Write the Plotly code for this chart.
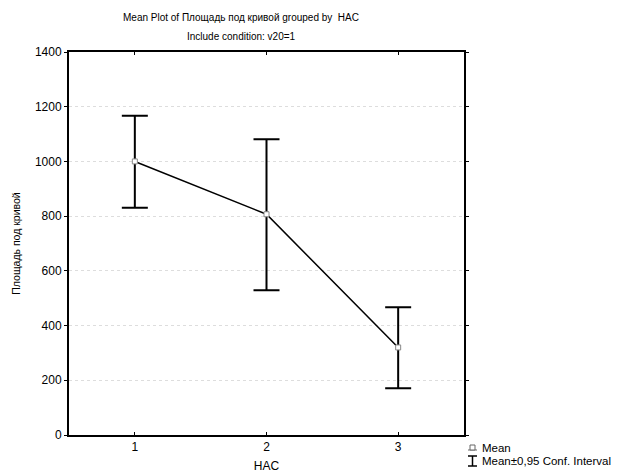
import plotly.graph_objects as go

groups = [1, 2, 3]
means = [1000, 807, 320]
ci_upper = [1167, 1081, 467]
ci_lower = [831, 529, 171]

err_plus = [u - m for u, m in zip(ci_upper, means)]
err_minus = [m - l for m, l in zip(means, ci_lower)]

font = "Liberation Sans, Arial, sans-serif"

# plot area in pixels
L, R, T, B = 69, 464, 52, 435
W, H = 627, 476


def px(x):
    return (x - L) / (R - L)


def py(y):
    return (B - y) / (B - T)


fig = go.Figure()
fig.add_trace(go.Scatter(
    x=groups, y=means, mode="lines+markers",
    line=dict(color="black", width=1.5),
    marker=dict(symbol="square", size=5, color="white", line=dict(color="#888", width=1)),
    error_y=dict(type="data", symmetric=False, array=err_plus, arrayminus=err_minus,
                 color="black", thickness=2, width=13),
    showlegend=False,
))

fig.update_layout(
    width=W, height=H,
    margin=dict(l=L, r=W - R, t=T, b=H - B, autoexpand=False),
    paper_bgcolor="white", plot_bgcolor="white",
    font=dict(family=font, size=12, color="black"),
    xaxis=dict(range=[0.5, 3.5], tickvals=groups, ticktext=[str(g) for g in groups],
               showline=True, linecolor="black", linewidth=2, mirror="ticks",
               ticks="inside", ticklen=3, tickcolor="black", showgrid=False, zeroline=False,
               tickfont=dict(size=12), automargin=False,
               title=dict(text="HAC", standoff=8, font=dict(size=12))),
    yaxis=dict(range=[0, 1400], dtick=200,
               showline=True, linecolor="black", linewidth=2, mirror="ticks",
               ticks="outside", ticklen=3, tickcolor="black",
               showgrid=True, gridcolor="#dddddd", griddash="dot", gridwidth=1,
               tickfont=dict(size=12), automargin=False,
               zeroline=False, title=dict(text="Площадь под кривой", standoff=12, font=dict(size=10.5))),
)

# Title lines
fig.add_annotation(xref="paper", yref="paper", x=px(241), y=py(17),
                   text="Mean Plot of Площадь под кривой grouped by  HAC",
                   showarrow=False, xanchor="center", yanchor="middle", font=dict(size=10))
fig.add_annotation(xref="paper", yref="paper", x=px(241), y=py(36),
                   text="Include condition: v20=1",
                   showarrow=False, xanchor="center", yanchor="middle", font=dict(size=10))

# Manual legend: mean glyph
fig.add_shape(type="line", xref="paper", yref="paper", x0=px(468), x1=px(477), y0=py(450), y1=py(450),
              line=dict(color="#666", width=1))
fig.add_shape(type="rect", xref="paper", yref="paper", x0=px(470), x1=px(475), y0=py(445), y1=py(450),
              line=dict(color="#666", width=1), fillcolor="white")
# CI glyph
fig.add_shape(type="line", xref="paper", yref="paper", x0=px(472.5), x1=px(472.5), y0=py(456), y1=py(466),
              line=dict(color="black", width=1.5))
fig.add_shape(type="line", xref="paper", yref="paper", x0=px(468), x1=px(477), y0=py(456), y1=py(456),
              line=dict(color="black", width=1.5))
fig.add_shape(type="line", xref="paper", yref="paper", x0=px(468), x1=px(477), y0=py(466), y1=py(466),
              line=dict(color="black", width=1.5))
fig.add_annotation(xref="paper", yref="paper", x=px(480), y=py(448), text="Mean",
                   showarrow=False, xanchor="left", yanchor="middle", font=dict(size=11.5))
fig.add_annotation(xref="paper", yref="paper", x=px(480), y=py(461), text="Mean±0,95 Conf. Interval",
                   showarrow=False, xanchor="left", yanchor="middle", font=dict(size=11.5))

fig.write_html("out.html", config={"displayModeBar": False},
               post_script="document.body.style.margin='0';")
